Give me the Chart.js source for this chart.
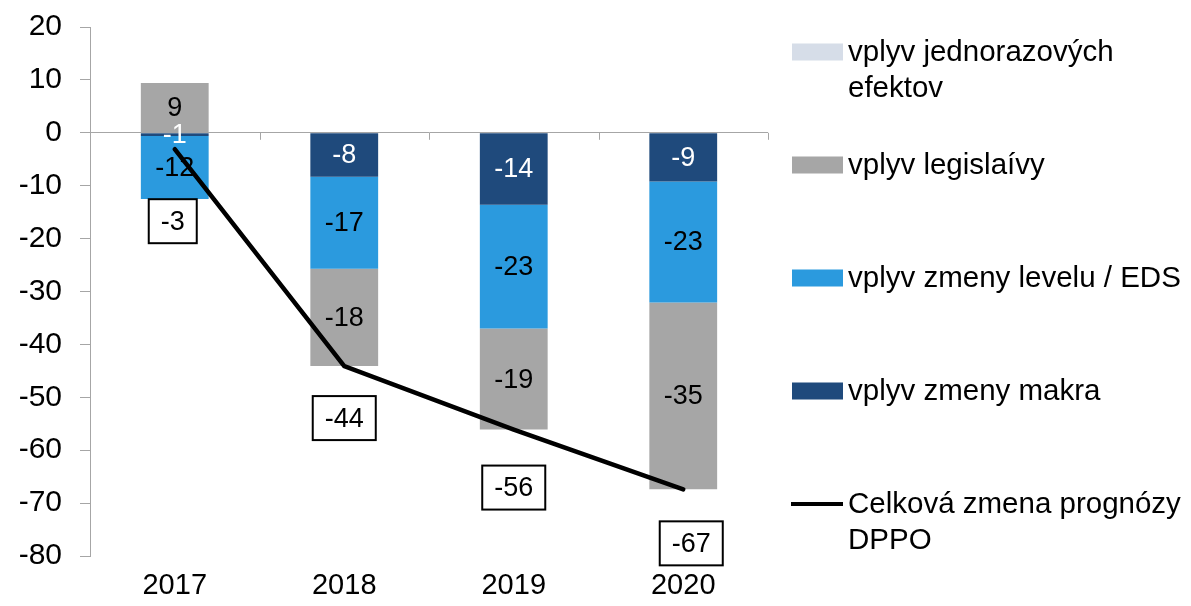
<!DOCTYPE html>
<html>
<head>
<meta charset="utf-8">
<style>
  html, body { margin: 0; padding: 0; background: #fff; }
  #wrap { width: 1191px; height: 606px; }
</style>
<script src="https://cdn.jsdelivr.net/npm/chart.js@4/dist/chart.umd.min.js"></script>
</head>
<body>
<div id="wrap"><canvas id="chart" width="1191" height="606"></canvas></div>
<script>
// categories and series
const years = ['2017', '2018', '2019', '2020'];
const macro = [-0.6, -8.3, -13.6, -9.2];     // vplyv zmeny makra
const level = [-11.9, -17.4, -23.4, -22.9];  // vplyv zmeny levelu / EDS
const legis = [9.4, -18.4, -19.1, -35.3];    // vplyv legislaívy
const oneOff = [0, 0, 0, 0];                 // vplyv jednorazových efektov
const total = [-3.1, -44.1, -56.1, -67.4];   // Celková zmena prognózy DPPO
const yMin = -80;
const yMax = 20;
const yStep = 10;

const AXIS = '#a6a6a6';
const FONT = '"Liberation Sans", Arial, sans-serif';
Chart.defaults.font.family = FONT;
Chart.defaults.color = '#000';

// legend order as in the reference (dataset indices)
const legendOrder = [3, 2, 1, 0, 4];
// where each total's box sits relative to its point
const boxShift = [[-2, 72], [0, 52], [0, 58], [8, 54]];

/* value labels in the middle of each bar segment */
const barLabels = {
  id: 'barLabels',
  afterDatasetsDraw(chart) {
    const { ctx } = chart;
    ctx.save();
    ctx.font = '27px ' + FONT;
    ctx.textAlign = 'center';
    ctx.textBaseline = 'middle';
    chart.data.datasets.forEach((ds, i) => {
      if (ds.type !== 'bar') return;
      chart.getDatasetMeta(i).data.forEach((bar, j) => {
        const v = ds.data[j];
        if (!v) return;
        const { x, y, base } = bar.getProps(['x', 'y', 'base'], true);
        ctx.fillStyle = ds.labelColor;
        ctx.fillText(String(Math.round(v)), x, (y + base) / 2 + 1);
      });
    });
    ctx.restore();
  },
};

/* boxed totals, zero-line category ticks and the side legend */
const extras = {
  id: 'extras',
  beforeDatasetsDraw(chart) {
    const { ctx, chartArea } = chart;
    const y0 = chart.scales.y.getPixelForValue(0);
    const w = (chartArea.right - chartArea.left) / years.length;
    ctx.save();
    ctx.strokeStyle = AXIS;
    ctx.lineWidth = 1;
    for (let i = 1; i <= years.length; i++) {
      const x = Math.round(chartArea.left + i * w) + 0.5;
      ctx.beginPath();
      ctx.moveTo(x, y0);
      ctx.lineTo(x, y0 + 7);
      ctx.stroke();
    }
    ctx.restore();
  },
  afterDraw(chart) {
    const { ctx } = chart;
    ctx.save();
    // total boxes
    const lineIdx = chart.data.datasets.findIndex(d => d.type === 'line');
    const pts = chart.getDatasetMeta(lineIdx).data;
    ctx.font = '27px ' + FONT;
    ctx.textAlign = 'center';
    ctx.textBaseline = 'middle';
    pts.forEach((p, j) => {
      const txt = String(Math.round(total[j]));
      const cx = p.x + boxShift[j][0];
      const cy = p.y + boxShift[j][1];
      const bw = ctx.measureText(txt).width + 24;
      const bh = 44;
      ctx.fillStyle = '#fff';
      ctx.fillRect(cx - bw / 2, cy - bh / 2, bw, bh);
      ctx.strokeStyle = '#000';
      ctx.lineWidth = 2;
      ctx.strokeRect(cx - bw / 2, cy - bh / 2, bw, bh);
      ctx.fillStyle = '#000';
      ctx.fillText(txt, cx, cy + 1);
    });

    // legend
    ctx.font = '29.5px ' + FONT;
    ctx.textAlign = 'left';
    let y = 52;
    legendOrder.forEach(i => {
      const ds = chart.data.datasets[i];
      if (ds.type === 'line') {
        ctx.strokeStyle = ds.borderColor;
        ctx.lineWidth = 4;
        ctx.beginPath();
        ctx.moveTo(791, y);
        ctx.lineTo(843, y);
        ctx.stroke();
      } else {
        ctx.fillStyle = ds.backgroundColor;
        ctx.fillRect(792, y - 8.5, 51, 17);
      }
      ctx.fillStyle = '#000';
      ds.label.split('\n').forEach((t, k) => ctx.fillText(t, 848, y + 1 + k * 36));
      y += 113;
    });
    ctx.restore();
  },
};

new Chart(document.getElementById('chart'), {
  data: {
    labels: years,
    datasets: [
      { type: 'bar', label: 'vplyv zmeny makra', data: macro, backgroundColor: '#1f4a7c', labelColor: '#fff', order: 1 },
      { type: 'bar', label: 'vplyv zmeny levelu / EDS', data: level, backgroundColor: '#2b9ade', labelColor: '#000', order: 1 },
      { type: 'bar', label: 'vplyv legislaívy', data: legis, backgroundColor: '#a6a6a6', labelColor: '#000', order: 1 },
      { type: 'bar', label: 'vplyv jednorazových\nefektov', data: oneOff, backgroundColor: '#d6dde8', labelColor: '#000', order: 1 },
      {
        type: 'line', label: 'Celková zmena prognózy\nDPPO', data: total,
        borderColor: '#000', borderWidth: 4.5, pointRadius: 0,
        borderCapStyle: 'round', borderJoinStyle: 'miter', tension: 0, order: 0,
      },
    ],
  },
  options: {
    responsive: false,
    animation: false,
    layout: { padding: { top: 27, right: 423, bottom: 0, left: 0 } },
    datasets: { bar: { barPercentage: 0.4, categoryPercentage: 1, borderWidth: 0 } },
    scales: {
      x: {
        stacked: true,
        grid: { display: false, drawTicks: false },
        border: { display: false },
        ticks: { font: { size: 29 }, padding: 13, color: '#000' },
        afterFit: (s) => { s.height = 50; },
      },
      y: {
        stacked: true,
        min: yMin,
        max: yMax,
        ticks: { stepSize: yStep, font: { size: 30 }, padding: 18, color: '#000' },
        grid: {
          color: (c) => (c.tick && c.tick.value === 0 ? AXIS : 'rgba(0,0,0,0)'),
          tickColor: AXIS,
          tickLength: 10,
          drawOnChartArea: true,
        },
        border: { display: true, color: AXIS },
        afterFit: (s) => { s.width = 90; s.paddingTop = 0; s.paddingBottom = 0; },
      },
    },
    plugins: {
      legend: { display: false },
      tooltip: { enabled: false },
    },
  },
  plugins: [barLabels, extras],
});
</script>
</body>
</html>
